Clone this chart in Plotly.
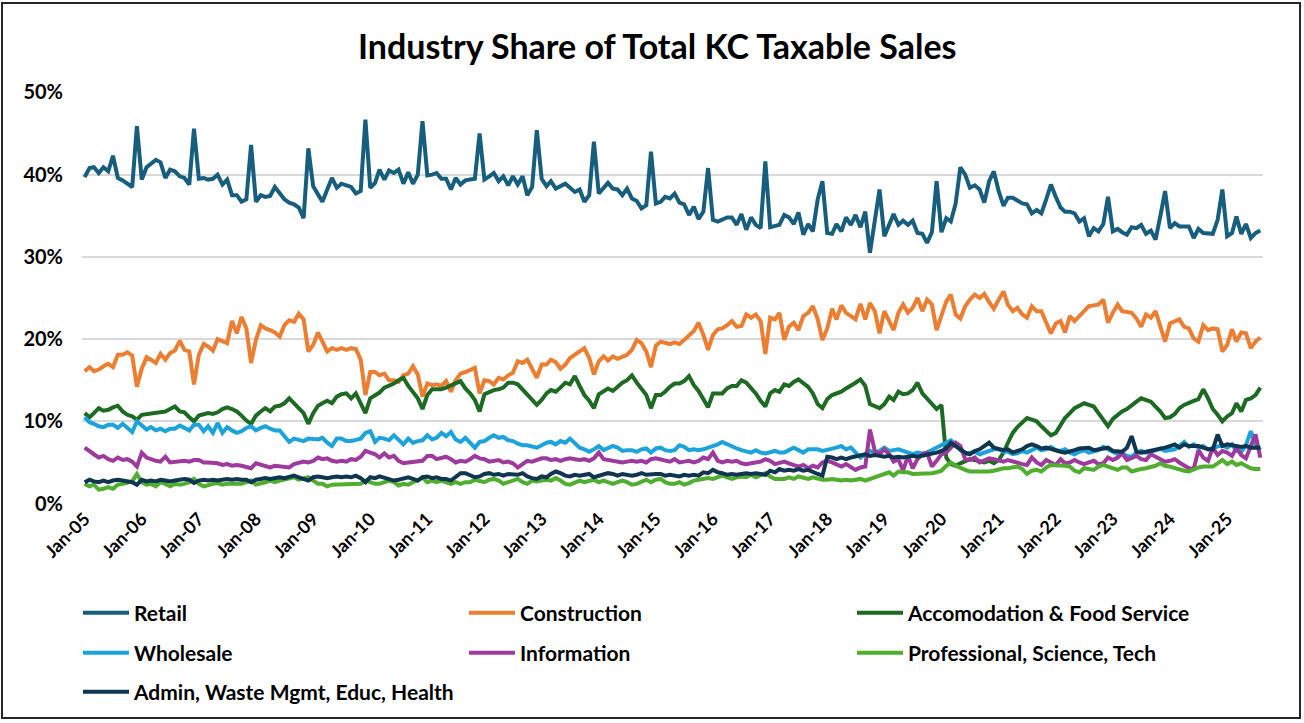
import plotly.graph_objects as go
import pandas as pd

# Monthly observations, Jan-2005 .. Aug-2025 (values in percent)
months = pd.date_range("2005-01-01", periods=248, freq="MS")

retail = [
    39.7, 40.8, 40.9, 40.2, 40.9, 40.4, 42.3, 39.6, 39.3, 38.9, 38.5, 45.9,  # 2005
    39.4, 40.9, 41.3, 41.8, 41.5, 39.6, 40.6, 40.4, 39.8, 39.6, 38.8, 45.6,  # 2006
    39.5, 39.6, 39.4, 39.5, 40.0, 38.8, 39.4, 37.5, 37.5, 36.7, 37.0, 43.6,  # 2007
    36.7, 37.5, 37.3, 37.4, 38.5, 37.7, 37.0, 36.6, 36.4, 36.0, 34.7, 43.2,  # 2008
    38.6, 37.6, 36.7, 38.2, 39.6, 38.4, 38.9, 38.7, 38.5, 37.7, 38.0, 46.7,  # 2009
    38.4, 39.0, 40.6, 39.4, 40.5, 40.2, 40.6, 38.9, 40.3, 38.9, 40.0, 46.5,  # 2010
    39.9, 40.0, 40.2, 39.5, 39.5, 38.2, 39.6, 38.8, 39.3, 39.4, 39.5, 45.0,  # 2011
    39.4, 39.8, 40.2, 39.2, 39.8, 38.7, 39.8, 38.8, 39.8, 37.5, 38.5, 45.4,  # 2012
    39.5, 38.6, 39.2, 38.3, 38.6, 38.9, 38.4, 37.9, 38.2, 36.7, 37.5, 44.0,  # 2013
    37.7, 38.4, 39.0, 38.3, 38.2, 37.5, 38.3, 37.1, 36.8, 35.9, 36.3, 42.8,  # 2014
    36.5, 36.7, 37.3, 37.1, 37.7, 36.6, 36.4, 35.1, 36.1, 34.6, 35.5, 40.8,  # 2015
    34.5, 34.3, 34.6, 34.8, 34.8, 33.9, 35.2, 33.3, 34.8, 33.9, 33.5, 41.6,  # 2016
    33.6, 33.7, 33.9, 35.1, 34.8, 34.0, 35.4, 32.7, 34.0, 33.1, 37.0, 39.2,  # 2017
    32.9, 32.8, 34.0, 33.1, 34.8, 33.9, 35.1, 33.6, 35.5, 30.5, 34.4, 38.2,  # 2018
    32.5, 33.9, 35.2, 33.9, 34.4, 33.9, 34.4, 32.9, 32.8, 31.7, 33.0, 39.2,  # 2019
    33.0, 34.7, 34.3, 36.5, 40.9, 40.0, 38.4, 38.7, 38.2, 36.6, 39.2, 40.4,  # 2020
    38.0, 36.2, 37.2, 37.2, 36.9, 36.5, 36.4, 35.3, 35.7, 35.3, 37.0, 38.8,  # 2021
    37.3, 36.0, 35.5, 35.5, 35.3, 34.3, 34.7, 32.5, 33.5, 33.1, 34.0, 37.3,  # 2022
    33.1, 33.4, 33.0, 32.7, 33.6, 33.5, 33.9, 32.8, 33.2, 32.1, 35.0, 38.0,  # 2023
    33.5, 34.1, 33.7, 33.7, 33.7, 32.3, 33.4, 32.9, 32.8, 32.8, 34.5, 38.2,  # 2024
    32.5, 32.9, 34.9, 32.8, 34.0, 32.3, 32.9, 33.2,                          # 2025
]

construction = [
    16.1, 16.6, 16.1, 16.3, 16.7, 17.0, 16.6, 18.1, 18.1, 18.4, 18.0, 14.2,
    16.4, 17.8, 17.5, 17.1, 18.2, 17.5, 18.3, 18.6, 19.8, 18.7, 18.5, 14.5,
    18.1, 19.4, 19.1, 18.6, 20.0, 19.7, 19.5, 22.2, 20.7, 22.7, 21.3, 17.1,
    19.9, 21.7, 21.3, 21.1, 20.8, 20.3, 21.7, 22.3, 22.1, 23.1, 22.4, 18.5,
    19.3, 20.8, 19.7, 18.5, 18.9, 18.7, 18.9, 18.7, 18.9, 18.8, 17.5, 13.2,
    16.0, 16.0, 15.6, 15.8, 15.0, 15.0, 14.8, 15.6, 15.8, 16.7, 15.7, 13.0,
    14.6, 14.4, 14.5, 14.3, 14.9, 13.6, 15.0, 15.8, 16.0, 16.2, 16.5, 13.4,
    15.0, 14.9, 14.5, 15.3, 15.1, 15.6, 15.9, 17.3, 17.1, 17.5, 16.4, 15.3,
    16.9, 16.9, 17.5, 17.2, 16.4, 16.9, 17.7, 18.1, 18.5, 18.9, 17.7, 15.7,
    17.3, 17.9, 17.4, 17.9, 17.6, 17.9, 18.1, 18.7, 19.9, 19.5, 18.5, 16.6,
    19.2, 19.7, 19.5, 19.4, 19.6, 19.4, 19.9, 20.4, 21.0, 22.0, 20.5, 18.7,
    20.5, 21.2, 21.3, 21.7, 22.2, 21.5, 21.6, 23.0, 22.6, 23.0, 22.2, 18.2,
    22.6, 22.4, 23.2, 19.9, 21.5, 22.0, 21.1, 22.8, 23.2, 24.0, 22.4, 19.9,
    21.3, 23.7, 22.4, 24.1, 23.2, 22.8, 22.4, 24.3, 22.4, 24.4, 23.4, 20.7,
    23.4, 22.2, 21.1, 23.2, 24.2, 23.2, 23.8, 25.0, 23.4, 24.8, 24.2, 21.1,
    22.8, 24.6, 25.4, 23.0, 22.5, 24.0, 24.8, 25.4, 25.0, 25.5, 24.5, 23.7,
    24.8, 25.8, 24.2, 23.4, 23.8, 23.0, 22.6, 24.0, 23.4, 23.4, 22.0, 20.7,
    21.9, 22.2, 20.8, 22.8, 22.2, 22.8, 23.4, 24.0, 24.1, 24.2, 24.8, 22.0,
    23.2, 24.2, 23.4, 23.3, 23.2, 22.5, 21.5, 23.0, 22.6, 23.4, 21.7, 19.7,
    21.9, 22.2, 22.4, 21.5, 21.3, 20.1, 19.7, 21.7, 21.1, 21.3, 21.2, 18.5,
    19.3, 21.2, 19.7, 20.8, 20.7, 18.9, 19.7, 20.2,
]

accommodation = [
    11.0, 10.5, 11.0, 11.6, 11.3, 11.4, 11.7, 11.9, 11.2, 10.8, 10.6, 10.2,
    10.8, 10.9, 10.9, 11.1, 11.1, 11.2, 11.5, 11.8, 11.2, 11.1, 10.5, 10.0,
    10.7, 10.9, 11.0, 10.9, 11.1, 11.5, 11.7, 11.5, 11.2, 10.7, 10.1, 9.7,
    10.7, 11.2, 11.6, 11.2, 11.8, 11.9, 12.2, 12.8, 12.1, 11.6, 11.0, 9.7,
    11.0, 11.9, 12.2, 12.5, 12.2, 13.0, 13.3, 13.4, 12.8, 13.4, 12.2, 11.0,
    12.8, 13.2, 13.5, 14.1, 14.3, 14.6, 15.0, 15.3, 14.3, 13.6, 12.8, 11.5,
    13.2, 13.9, 13.9, 13.9, 14.1, 14.4, 14.6, 14.9, 14.0, 13.4, 12.6, 11.2,
    13.3, 13.6, 13.8, 13.9, 14.1, 14.7, 14.7, 14.5, 13.9, 13.2, 12.6, 12.0,
    12.6, 13.4, 13.8, 13.6, 14.1, 14.7, 14.5, 15.5, 14.3, 13.2, 12.5, 11.6,
    13.3, 13.6, 14.0, 13.7, 14.2, 14.7, 15.0, 15.6, 14.7, 13.9, 13.2, 11.6,
    13.2, 13.2, 13.6, 14.2, 14.6, 14.6, 14.9, 15.5, 14.4, 13.7, 12.6, 11.7,
    13.4, 13.4, 13.4, 14.0, 14.3, 14.3, 15.0, 14.7, 14.0, 13.4, 12.5, 11.8,
    13.4, 13.8, 13.6, 14.5, 14.3, 14.8, 15.1, 14.7, 14.2, 13.4, 12.1, 11.6,
    12.7, 13.2, 13.4, 13.6, 14.0, 14.3, 14.7, 15.1, 14.3, 12.1, 11.8, 11.6,
    12.1, 13.0, 12.6, 13.6, 13.3, 13.4, 13.8, 14.7, 13.4, 12.8, 12.1, 11.5,
    12.0, 5.6, 4.8, 4.6, 4.9, 5.2, 5.4, 5.3, 5.2, 5.0, 5.2, 4.9,
    5.3, 6.2, 7.4, 8.6, 9.3, 9.9, 10.4, 10.2, 10.0, 9.4, 8.8, 8.3,
    8.6, 9.5, 10.4, 11.0, 11.6, 11.9, 12.2, 12.0, 11.8, 11.0, 10.2, 9.4,
    10.3, 10.8, 11.2, 11.5, 12.0, 12.4, 12.8, 12.6, 12.4, 11.8, 11.2, 10.4,
    10.5, 10.9, 11.6, 12.0, 12.3, 12.5, 12.7, 13.9, 12.8, 11.5, 10.8, 10.0,
    10.6, 11.0, 12.2, 11.2, 12.6, 12.8, 13.2, 14.1,
]

wholesale = [
    10.5, 9.9, 9.7, 9.4, 9.3, 9.6, 9.6, 9.2, 9.7, 9.2, 8.7, 10.0,
    9.5, 9.0, 9.3, 8.9, 9.1, 8.8, 9.1, 9.1, 9.5, 9.2, 8.9, 9.6,
    9.6, 8.8, 9.4, 8.6, 9.8, 8.6, 9.3, 8.9, 8.6, 8.8, 9.2, 9.4,
    8.9, 9.2, 9.4, 9.1, 8.9, 8.9, 8.2, 7.5, 7.9, 7.7, 7.6, 7.9,
    7.8, 7.8, 8.0, 7.4, 7.0, 7.9, 7.9, 7.6, 7.6, 7.8, 7.9, 8.6,
    8.8, 7.5, 8.0, 7.9, 7.7, 8.3, 7.8, 7.2, 7.9, 7.4, 7.6, 7.7,
    8.3, 7.8, 8.0, 8.6, 8.2, 8.7, 7.8, 7.5, 8.0, 7.4, 6.8, 7.5,
    7.6, 8.0, 8.3, 8.0, 8.1, 7.7, 7.6, 7.3, 7.1, 7.1, 7.0, 6.8,
    7.1, 7.4, 7.5, 7.2, 7.6, 7.4, 7.9, 7.4, 6.8, 6.6, 6.3, 6.6,
    7.0, 6.5, 6.7, 7.0, 6.8, 6.4, 6.5, 6.5, 6.3, 6.6, 6.7, 6.2,
    6.7, 6.8, 6.5, 6.4, 6.5, 7.1, 6.9, 6.5, 6.6, 6.5, 6.6, 6.8,
    6.9, 7.2, 7.5, 7.2, 6.9, 6.7, 6.5, 6.4, 6.2, 6.5, 6.2, 6.1,
    6.2, 6.4, 6.2, 6.2, 6.5, 6.8, 6.5, 6.2, 6.6, 6.6, 6.6, 6.4,
    6.5, 6.6, 6.8, 7.0, 6.6, 6.8, 6.2, 5.6, 6.0, 6.4, 6.2, 6.4,
    6.8, 6.4, 6.5, 6.6, 6.4, 6.2, 6.0, 6.2, 6.1, 6.2, 6.5, 6.8,
    7.2, 7.5, 7.7, 7.2, 6.5, 6.0, 6.2, 6.3, 6.0, 6.2, 6.4, 6.6,
    6.6, 6.3, 6.3, 6.0, 6.1, 6.4, 6.2, 6.5, 6.8, 6.5, 6.6, 6.9,
    6.5, 6.4, 6.6, 6.2, 6.0, 6.3, 6.5, 6.2, 6.4, 6.5, 6.9, 6.6,
    6.2, 6.0, 6.1, 5.8, 5.7, 6.2, 6.4, 6.2, 6.3, 6.5, 6.7, 6.4,
    6.5, 6.6, 7.0, 7.5, 6.9, 7.2, 6.8, 7.0, 6.6, 6.8, 7.0, 7.1,
    6.8, 7.2, 6.4, 6.3, 7.1, 8.8, 7.2, 6.5,
]

information = [
    6.8, 6.3, 6.0, 5.6, 5.8, 5.4, 5.2, 5.6, 5.3, 5.4, 5.1, 4.5,
    6.2, 5.6, 5.4, 5.2, 5.1, 5.7, 5.0, 5.1, 5.2, 5.2, 5.1, 5.3,
    5.3, 5.0, 5.0, 5.0, 4.9, 4.7, 4.8, 4.6, 4.7, 4.6, 4.5, 4.3,
    4.9, 4.7, 4.5, 4.4, 4.6, 4.5, 4.4, 4.4, 4.8, 5.0, 5.1, 5.0,
    5.2, 5.6, 5.4, 5.5, 5.2, 5.1, 5.2, 5.1, 5.4, 5.3, 5.7, 6.4,
    6.2, 6.0, 5.6, 6.1, 5.6, 5.8, 5.2, 4.9, 5.0, 5.1, 5.1, 5.2,
    5.8, 5.8, 5.4, 5.5, 5.7, 5.4, 5.0, 5.2, 5.1, 5.4, 5.8, 5.5,
    5.4, 5.1, 5.2, 5.3, 5.0, 5.1, 4.9, 4.4, 4.8, 5.2, 5.1, 5.3,
    5.5, 5.5, 5.3, 5.4, 5.2, 5.4, 5.5, 5.4, 5.3, 5.4, 5.2, 5.5,
    6.2, 5.4, 5.3, 5.2, 5.1, 5.0, 5.1, 5.2, 5.1, 5.2, 5.0, 5.4,
    5.5, 5.4, 5.2, 5.1, 5.4, 5.0, 5.1, 5.2, 5.0, 5.2, 5.6, 5.4,
    6.2, 5.2, 5.0, 5.2, 5.1, 5.2, 4.9, 4.8, 4.9, 5.0, 5.1, 5.4,
    5.2, 4.8, 4.9, 5.1, 4.9, 4.7, 4.5, 4.7, 4.3, 4.6, 4.4, 5.0,
    5.2, 5.0, 4.8, 4.5, 4.8, 4.4, 4.1, 4.4, 4.5, 9.0, 6.4, 6.0,
    6.6, 6.0, 5.1, 5.4, 4.0, 5.8, 4.3, 5.4, 6.0, 6.2, 4.5, 5.2,
    6.0, 6.2, 6.8, 7.4, 7.0, 5.4, 5.3, 5.6, 5.0, 5.2, 5.5, 5.4,
    5.2, 5.1, 5.3, 5.1, 4.9, 4.8, 4.7, 5.6, 5.0, 4.7, 5.3, 5.0,
    4.7, 5.4, 4.9, 5.0, 5.3, 5.0, 4.8, 5.0, 5.2, 4.8, 4.9, 5.6,
    5.3, 5.6, 6.1, 5.3, 5.6, 5.8, 5.4, 5.3, 6.0, 5.7, 5.3, 5.1,
    5.2, 5.4, 5.0, 4.7, 4.3, 4.2, 6.5, 5.6, 5.2, 6.8, 5.9, 6.4,
    6.2, 5.8, 6.8, 5.9, 5.5, 7.0, 8.4, 5.6,
]

professional = [
    2.4, 2.1, 2.3, 1.7, 1.8, 2.0, 1.8, 2.3, 2.4, 2.6, 2.7, 3.6,
    2.6, 2.3, 2.4, 2.1, 2.6, 2.4, 2.1, 2.4, 2.3, 2.4, 2.6, 3.0,
    2.4, 2.1, 2.3, 2.4, 2.5, 2.3, 2.4, 2.4, 2.5, 2.4, 2.6, 2.8,
    2.3, 2.4, 2.6, 2.8, 2.6, 2.8, 2.9, 3.0, 3.2, 2.9, 3.0, 3.2,
    2.8, 2.4, 2.4, 2.1, 2.3, 2.3, 2.4, 2.4, 2.3, 2.4, 2.4, 2.8,
    2.6, 2.4, 2.4, 2.6, 2.8, 2.6, 2.2, 2.4, 2.3, 2.6, 2.8, 3.2,
    2.6, 2.8, 2.6, 2.8, 2.6, 2.4, 2.6, 2.4, 2.6, 2.6, 2.9, 2.8,
    2.6, 2.9, 3.0, 2.8, 2.4, 2.6, 2.8, 3.0, 2.6, 2.4, 2.8, 2.7,
    2.8, 2.9, 2.8, 3.1, 2.8, 2.4, 2.3, 2.6, 2.8, 2.6, 2.8, 2.9,
    2.6, 2.8, 2.6, 2.4, 2.6, 2.8, 2.6, 2.3, 2.4, 2.6, 2.9, 2.6,
    2.9, 3.0, 2.6, 2.4, 2.4, 2.6, 2.3, 2.5, 2.8, 2.9, 3.0, 3.1,
    3.0, 3.2, 3.4, 3.2, 3.0, 3.2, 3.3, 3.2, 3.5, 3.2, 3.4, 3.7,
    3.3, 3.0, 3.0, 3.0, 3.2, 3.0, 3.3, 3.1, 3.0, 3.2, 3.0, 2.9,
    2.9, 3.0, 2.9, 2.8, 2.9, 2.8, 2.9, 3.0, 2.8, 3.0, 3.2, 3.3,
    3.5, 3.8, 3.4, 3.9, 3.8, 3.8, 3.6, 3.6, 3.6, 3.6, 3.7, 3.8,
    4.0, 4.6, 5.0, 4.6, 4.3, 4.1, 3.9, 3.9, 3.9, 3.8, 3.9, 4.0,
    4.2, 4.3, 4.3, 4.4, 4.5, 4.2, 3.6, 4.0, 4.1, 3.9, 4.4, 4.7,
    4.7, 4.7, 4.6, 4.5, 4.0, 3.8, 4.3, 4.2, 4.1, 4.5, 4.7, 4.5,
    4.3, 4.1, 4.4, 4.4, 3.9, 4.1, 4.2, 4.3, 4.4, 4.6, 4.9, 4.6,
    4.5, 4.3, 4.1, 4.0, 3.9, 4.2, 4.4, 4.5, 4.5, 4.5, 4.9, 5.3,
    4.8, 5.1, 4.7, 4.9, 4.6, 4.3, 4.2, 4.2,
]

admin = [
    2.6, 2.9, 2.7, 2.6, 2.8, 2.6, 2.8, 2.9, 2.8, 2.7, 2.6, 2.3,
    2.9, 2.7, 2.8, 2.7, 2.9, 2.8, 2.7, 2.8, 2.9, 3.0, 2.9, 2.5,
    2.8, 2.9, 2.8, 2.9, 2.8, 2.9, 3.0, 2.9, 3.0, 2.9, 2.9, 2.6,
    2.9, 3.0, 3.1, 3.0, 3.1, 3.2, 3.1, 3.2, 3.4, 3.2, 3.0, 2.8,
    3.2, 3.3, 3.2, 3.1, 3.2, 3.3, 3.2, 3.3, 3.2, 3.4, 3.1, 2.6,
    3.2, 3.1, 3.3, 3.1, 3.0, 2.8, 2.9, 3.1, 3.2, 3.0, 2.8, 3.2,
    3.3, 3.1, 3.2, 3.0, 3.0, 2.8, 3.2, 3.7, 3.7, 3.5, 3.2, 3.3,
    3.6, 3.7, 3.5, 3.6, 3.4, 3.6, 3.6, 3.5, 3.7, 3.3, 3.1, 3.0,
    3.3, 3.2, 3.6, 3.9, 3.7, 3.4, 3.3, 3.5, 3.4, 3.5, 3.6, 3.2,
    3.4, 3.5, 3.7, 3.6, 3.4, 3.6, 3.5, 3.4, 3.5, 3.7, 3.5, 3.6,
    3.6, 3.6, 3.4, 3.5, 3.4, 3.3, 3.5, 3.4, 3.5, 3.4, 3.8, 3.7,
    4.1, 3.8, 3.7, 3.5, 3.6, 3.5, 3.6, 3.7, 3.6, 3.7, 3.6, 3.5,
    4.0, 3.8, 4.2, 4.0, 4.1, 4.0, 4.2, 4.0, 4.1, 3.8, 3.6, 3.4,
    5.7, 5.6, 5.4, 5.6, 5.4, 5.6, 5.7, 5.8, 6.0, 5.8, 5.9, 5.8,
    5.7, 5.8, 5.6, 5.7, 5.6, 5.7, 5.8, 5.7, 5.8, 5.9, 6.0, 6.2,
    6.4, 6.7, 7.4, 7.0, 6.6, 6.2, 6.0, 6.4, 6.6, 7.0, 7.4, 6.8,
    6.6, 6.5, 6.6, 6.2, 6.4, 6.6, 7.0, 7.2, 7.0, 6.7, 6.8, 6.6,
    6.5, 6.3, 6.2, 6.3, 6.5, 6.7, 6.8, 6.8, 6.5, 6.6, 6.8, 6.8,
    6.4, 6.4, 6.3, 6.8, 8.2, 6.3, 6.2, 6.3, 6.4, 6.5, 6.6, 6.8,
    7.0, 7.2, 6.8, 7.2, 7.0, 7.0, 7.0, 6.8, 6.6, 6.6, 8.4, 7.0,
    7.2, 7.1, 7.0, 6.9, 7.0, 6.8, 6.8, 6.8,
]

series_names = ["Retail", "Construction", "Accomodation & Food Service",
                "Wholesale", "Information", "Professional, Science, Tech",
                "Admin, Waste Mgmt, Educ, Health"]
series_values = [retail, construction, accommodation, wholesale,
                 information, professional, admin]
series_colors = ["#175E7E", "#ED7D31", "#1D6B23", "#1CA3DC",
                 "#9E3A9E", "#4FAE2E", "#0F3550"]

# ---- geometry (pixels) ----
W, H = 1304, 723
ML, MR, MT, MB = 82, 41, 92, 219
PW, PH = W - ML - MR, H - MT - MB

def px_x(px):
    return (px - ML) / PW

def px_y(py):
    return (H - MB - py) / PH

FONT = "Lato"

fig = go.Figure()

# legend slots: (column x of item origin, row y centre)
legend_slots = [(78, 613), (464, 613), (852, 613),
                (78, 653), (464, 653), (852, 653),
                (78, 692)]

layout_legends = {}
for k, (name, vals, col) in enumerate(zip(series_names, series_values, series_colors)):
    assert len(vals) == len(months), (name, len(vals))
    lid = "legend" if k == 0 else f"legend{k + 1}"
    fig.add_trace(go.Scatter(
        x=months, y=vals, name=name, mode="lines",
        line=dict(color=col, width=4),
        legend=lid,
        hovertemplate="%{x|%b-%y}: %{y:.1f}%<extra>" + name + "</extra>",
    ))
    lx, ly = legend_slots[k]
    layout_legends[lid] = dict(
        x=px_x(lx), y=px_y(ly), xanchor="left", yanchor="middle",
        orientation="h", bgcolor="rgba(0,0,0,0)", borderwidth=0,
        itemwidth=46, itemclick=False, itemdoubleclick=False,
        font=dict(family=FONT, size=21, color="#000000", weight=700),
    )

fig.update_layout(**layout_legends)

fig.update_layout(
    width=W, height=H,
    margin=dict(l=ML, r=MR, t=MT, b=MB, autoexpand=False),
    paper_bgcolor="white", plot_bgcolor="white",
    showlegend=True,
    title=dict(
        text="Industry Share of Total KC Taxable Sales",
        x=0.504, xref="container", xanchor="center",
        y=1 - 47 / H, yref="container", yanchor="middle",
        font=dict(family=FONT, size=34, color="#000000", weight=700),
    ),
    xaxis=dict(
        type="date",
        range=["2004-12-15", "2025-08-18"],
        tick0="2005-01-01", dtick="M12", tickformat="%b-%y",
        tickangle=-45, showgrid=False, zeroline=False, showline=False,
        ticks="", tickfont=dict(family=FONT, size=18, color="#000000", weight=700),
    ),
    yaxis=dict(
        range=[-0.05, 50.05], dtick=10, tick0=0, ticksuffix="%",
        showgrid=True, gridcolor="#D9D9D9", gridwidth=1.5,
        zeroline=False, showline=False, ticks="",
        ticklabelstandoff=18,
        tickfont=dict(family=FONT, size=20, color="#000000", weight=700),
    ),
    shapes=[dict(
        type="rect", xref="paper", yref="paper",
        x0=px_x(2), x1=px_x(1300), y0=px_y(718), y1=px_y(3),
        line=dict(color="#262626", width=2), fillcolor="rgba(0,0,0,0)",
        layer="below",
    )],
)

fig.write_html("out.html")
